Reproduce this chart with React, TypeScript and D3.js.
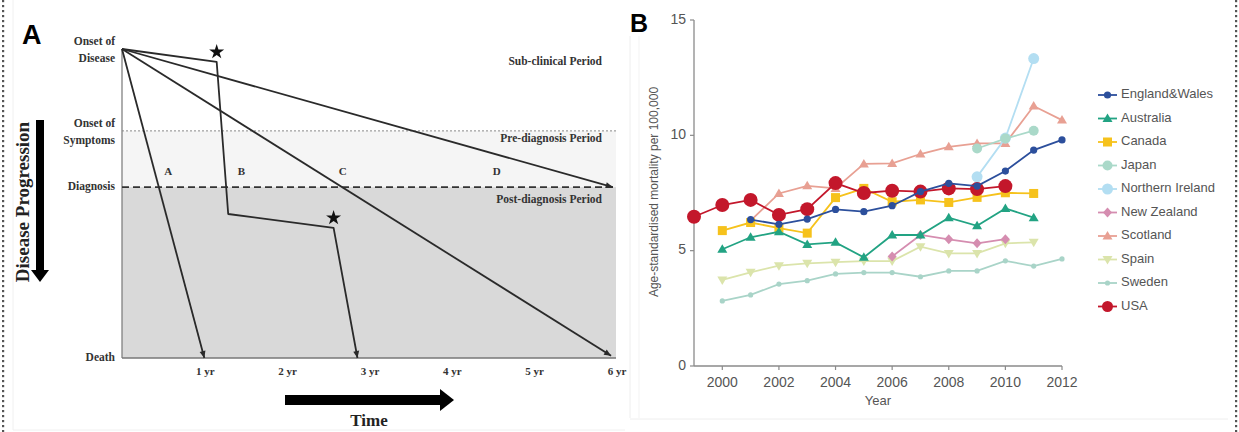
import React, { useEffect } from "react";
import * as d3 from "d3";

// ---------- Panel A data (time in years, progression 0 = onset, 1 = death) ----------
const yearTicks = [1, 2, 3, 4, 5, 6];
const stageLabels = ["Onset of|Disease", "Onset of|Symptoms", "Diagnosis", "Death"];
const stageLevels = [0, 0.265, 0.447, 1];
const periodLabels = ["Sub-clinical Period", "Pre-diagnosis Period", "Post-diagnosis Period"];
const periodLevels = [0.042, 0.294, 0.489];
const pathA: [number, number][] = [[0, 0], [1, 1]];
const pathB: [number, number][] = [[0, 0], [1.15, 0.042], [1.29, 0.534], [2.57, 0.579], [2.86, 1]];
const pathC: [number, number][] = [[0, 0], [5.94, 0.993]];
const pathD: [number, number][] = [[0, 0], [5.96, 0.447]];
const scenarioNames = ["A", "B", "C", "D"];
const scenarioLabelYears = [0.56, 1.45, 2.68, 4.55];
const starIdx = [1, 3]; // points of path B marked with a star

// ---------- Panel B data ----------
const years = d3.range(1999, 2013);
const countries = [
  "England&Wales", "Australia", "Canada", "Japan", "Northern Ireland",
  "New Zealand", "Scotland", "Spain", "Sweden", "USA",
];
const colors = [
  "#2c4f9c", "#22a383", "#f6c21c", "#aad9c9", "#b3def2",
  "#d58db0", "#e8a093", "#dbe4ab", "#a9d4c8", "#c3172b",
];
const shapes = ["dot", "tri", "sq", "circ", "bigcirc", "dia", "tri", "dtri", "small", "big"];
// null = no data that year (1999..2012)
const englandWales = [null, null, 6.35, 6.14, 6.37, 6.79, 6.69, 6.95, 7.56, 7.92, 7.8, 8.45, 9.36, 9.8];
const australia = [null, 5.06, 5.58, 5.82, 5.27, 5.36, 4.71, 5.68, 5.68, 6.43, 6.08, 6.83, 6.43, null];
const canada = [null, 5.87, 6.22, 5.98, 5.76, 7.3, 7.7, 7.12, 7.2, 7.09, 7.31, 7.51, 7.48, null];
const japan = [null, null, null, null, null, null, null, null, null, null, 9.43, 9.86, 10.2, null];
const northernIreland = [null, null, null, null, null, null, null, null, null, null, 8.2, 9.88, 13.33, null];
const newZealand = [null, null, null, null, null, null, null, 4.75, 5.68, 5.49, 5.32, 5.5, null, null];
const scotland = [null, null, 6.3, 7.48, 7.81, 7.7, 8.76, 8.78, 9.19, 9.5, 9.65, 9.65, 11.27, 10.66];
const spain = [null, 3.73, 4.06, 4.35, 4.45, 4.5, 4.55, 4.55, 5.17, 4.88, 4.88, 5.32, 5.36, null];
const sweden = [null, 2.82, 3.08, 3.55, 3.7, 3.99, 4.05, 4.05, 3.87, 4.12, 4.12, 4.56, 4.33, 4.64];
const usa = [6.47, 6.98, 7.2, 6.55, 6.8, 7.93, 7.5, 7.6, 7.56, 7.7, 7.67, 7.8, null, null];
const seriesValues = [englandWales, australia, canada, japan, northernIreland, newZealand, scotland, spain, sweden, usa];
const drawOrder = [8, 7, 6, 5, 4, 3, 2, 1, 9, 0];
const yTicks = [0, 5, 10, 15];
const xTicks = [2000, 2002, 2004, 2006, 2008, 2010, 2012];

const serif = "'Liberation Serif', 'DejaVu Serif', serif";
const sans = "'Liberation Sans', Arial, sans-serif";

function Marker({ shape, x, y, color }: { shape: string; x: number; y: number; color: string }) {
  switch (shape) {
    case "dot":
      return <circle cx={x} cy={y} r={3.6} fill={color} />;
    case "small":
      return <circle cx={x} cy={y} r={2.6} fill={color} />;
    case "circ":
      return <circle cx={x} cy={y} r={5} fill={color} />;
    case "bigcirc":
      return <circle cx={x} cy={y} r={5.5} fill={color} />;
    case "big":
      return <circle cx={x} cy={y} r={7} fill={color} />;
    case "sq":
      return <rect x={x - 4.5} y={y - 4.5} width={9} height={9} fill={color} />;
    case "tri":
      return <path d={`M${x},${y - 5}L${x + 5},${y + 3.5}L${x - 5},${y + 3.5}Z`} fill={color} />;
    case "dtri":
      return <path d={`M${x},${y + 5}L${x + 5},${y - 3.5}L${x - 5},${y - 3.5}Z`} fill={color} />;
    case "dia":
      return <path d={`M${x},${y - 5}L${x + 4.5},${y}L${x},${y + 5}L${x - 4.5},${y}Z`} fill={color} />;
    default:
      return null;
  }
}

function PanelA() {
  const x = d3.scaleLinear().domain([0, 6]).range([122, 616]);
  const y = d3.scaleLinear().domain([0, 1]).range([49, 358]);
  const line = d3.line<[number, number]>().x((d) => x(d[0])).y((d) => y(d[1]));
  const paths = [pathA, pathB, pathC, pathD];
  const star = d3.symbol().type(d3.symbolStar).size(70)();

  return (
    <g>
      <text x={22} y={44} fontFamily={sans} fontWeight="bold" fontSize={27} fill="#000">A</text>
      {/* bands */}
      <rect x={x(0)} y={y(stageLevels[1])} width={x(6) - x(0)} height={y(stageLevels[2]) - y(stageLevels[1])} fill="#f5f5f5" />
      <rect x={x(0)} y={y(stageLevels[2])} width={x(6) - x(0)} height={y(1) - y(stageLevels[2])} fill="#d9d9d9" />
      <line x1={x(0)} x2={x(0)} y1={y(0)} y2={y(1)} stroke="#777" strokeWidth={1.2} />
      <line x1={x(0)} x2={x(6)} y1={y(1)} y2={y(1)} stroke="#777" strokeWidth={1.5} />
      <line x1={x(0)} x2={x(6)} y1={y(stageLevels[1])} y2={y(stageLevels[1])} stroke="#888" strokeWidth={1} strokeDasharray="2,2" />
      <line x1={x(0)} x2={x(6)} y1={y(stageLevels[2])} y2={y(stageLevels[2])} stroke="#333" strokeWidth={1.6} strokeDasharray="7,4" />

      {/* stage labels */}
      {stageLabels.map((s, i) => {
        const parts = s.split("|");
        return parts.map((p, j) => (
          <text key={s + j} x={115} y={y(stageLevels[i]) + (parts.length === 2 ? (j === 0 ? -7 : 10) : 0)}
            textAnchor="end" dominantBaseline="middle" fontFamily={serif} fontWeight="bold" fontSize={11.5} fill="#333">
            {p}
          </text>
        ));
      })}
      {periodLabels.map((p, i) => (
        <text key={p} x={602} y={y(periodLevels[i])} textAnchor="end" dominantBaseline="middle"
          fontFamily={serif} fontWeight="bold" fontSize={11.5} fill="#333">{p}</text>
      ))}
      {scenarioNames.map((n, i) => (
        <text key={n} x={x(scenarioLabelYears[i])} y={172} textAnchor="middle" dominantBaseline="middle"
          fontFamily={serif} fontWeight="bold" fontSize={11} fill="#333">{n}</text>
      ))}

      {/* paths */}
      {paths.map((p, i) => {
        const last = p[p.length - 1];
        const prev = p[p.length - 2];
        const ang = Math.atan2(y(last[1]) - y(prev[1]), x(last[0]) - x(prev[0]));
        const tx = x(last[0]);
        const ty = y(last[1]);
        const L = 7, W = 3;
        const ax = tx - L * Math.cos(ang), ay = ty - L * Math.sin(ang);
        const head = `M${tx},${ty}L${ax - W * Math.sin(ang)},${ay + W * Math.cos(ang)}L${ax + W * Math.sin(ang)},${ay - W * Math.cos(ang)}Z`;
        return (
          <g key={i}>
            <path d={line(p) || ""} fill="none" stroke="#2a2a2a" strokeWidth={1.8} strokeLinejoin="round" />
            <path d={head} fill="#2a2a2a" />
          </g>
        );
      })}
      {starIdx.map((k) => (
        <path key={k} d={star || ""} transform={`translate(${x(pathB[k][0])},${y(pathB[k][1]) - 10})`} fill="#111" />
      ))}

      {/* year ticks */}
      {yearTicks.map((t) => (
        <text key={t} x={x(t) + 1} y={372} textAnchor="middle" dominantBaseline="middle"
          fontFamily={serif} fontWeight="bold" fontSize={11} fill="#333">{`${t} yr`}</text>
      ))}

      {/* Disease progression arrow */}
      <rect x={36} y={120} width={8} height={152} fill="#000" />
      <path d="M31,270L49,270L40,282Z" fill="#000" />
      <text transform="translate(25,202) rotate(-90)" textAnchor="middle" dominantBaseline="middle"
        fontFamily={serif} fontWeight="bold" fontSize={19} fill="#222">Disease Progression</text>

      {/* Time arrow */}
      <rect x={285} y={395} width={158} height={10} fill="#000" />
      <path d="M440,389L454,400L440,411Z" fill="#000" />
      <text x={369} y={422} textAnchor="middle" dominantBaseline="middle"
        fontFamily={serif} fontWeight="bold" fontSize={17} fill="#222">Time</text>
    </g>
  );
}

function PanelB() {
  const x = d3.scaleLinear().domain([1999, 2012]).range([694, 1062]);
  const y = d3.scaleLinear().domain([0, 15]).range([366, 20]);
  const line = d3
    .line<number | null>()
    .defined((d) => d !== null)
    .x((_, i) => x(years[i]))
    .y((d) => y(d as number));
  const axisColor = "#8a8a8a";

  return (
    <g>
      <text x={630} y={32} fontFamily={sans} fontWeight="bold" fontSize={25} fill="#000">B</text>
      {/* axes */}
      <line x1={x(1999)} x2={x(1999)} y1={y(15)} y2={y(0)} stroke={axisColor} strokeWidth={1.3} />
      <line x1={x(1999)} x2={x(2012)} y1={y(0)} y2={y(0)} stroke={axisColor} strokeWidth={1.3} />
      {yTicks.map((t) => (
        <g key={t}>
          <line x1={x(1999) - 4} x2={x(1999)} y1={y(t)} y2={y(t)} stroke={axisColor} strokeWidth={1.2} />
          <text x={686} y={y(t)} textAnchor="end" dominantBaseline="middle" fontFamily={sans} fontSize={14} fill="#555">{t}</text>
        </g>
      ))}
      {xTicks.map((t) => (
        <g key={t}>
          <line x1={x(t)} x2={x(t)} y1={y(0)} y2={y(0) + 4} stroke={axisColor} strokeWidth={1.2} />
          <text x={x(t)} y={383} textAnchor="middle" dominantBaseline="middle" fontFamily={sans} fontSize={14} fill="#555">{t}</text>
        </g>
      ))}
      <text x={878} y={402} textAnchor="middle" dominantBaseline="middle" fontFamily={sans} fontSize={13} fill="#555">Year</text>
      <text transform="translate(655,192) rotate(-90)" textAnchor="middle" dominantBaseline="middle"
        fontFamily={sans} fontSize={12} fill="#555">Age-standardised mortality per 100,000</text>

      {/* series */}
      {drawOrder.map((s) => (
        <g key={countries[s]}>
          <path d={line(seriesValues[s]) || ""} fill="none" stroke={colors[s]} strokeWidth={1.8} />
          {seriesValues[s].map((v, i) =>
            v === null ? null : <Marker key={i} shape={shapes[s]} x={x(years[i])} y={y(v)} color={colors[s]} />
          )}
        </g>
      ))}

      {/* legend */}
      {countries.map((c, i) => {
        const ly = 95 + i * 23.5;
        return (
          <g key={c}>
            <line x1={1098} x2={1117} y1={ly} y2={ly} stroke={colors[i]} strokeWidth={1.8} />
            <Marker shape={shapes[i] === "big" ? "bigcirc" : shapes[i]} x={1107.5} y={ly} color={colors[i]} />
            <text x={1121} y={ly} dominantBaseline="middle" fontFamily={sans} fontSize={13} fill="#555">{c}</text>
          </g>
        );
      })}
    </g>
  );
}

export default function App() {
  useEffect(() => {
    document.body.style.margin = "0";
  }, []);
  const dots = d3.range(0, 432, 5);
  return (
    <svg width={1239} height={432} style={{ display: "block", background: "#fff" }}>
      {/* faint panel frames */}
      <line x1={13} x2={13} y1={0} y2={430} stroke="#f0f0f0" />
      <line x1={13} x2={625} y1={430} y2={430} stroke="#f0f0f0" />
      <line x1={630} x2={630} y1={36} y2={418} stroke="#eeeeee" />
      <line x1={639} x2={639} y1={36} y2={418} stroke="#f3f3f3" />
      <line x1={630} x2={1228} y1={419} y2={419} stroke="#eeeeee" />
      {/* dotted page border */}
      {dots.map((d) => (
        <g key={d}>
          <rect x={2} y={d} width={2.2} height={2.2} fill="#555" />
          <rect x={1235} y={d} width={2.2} height={2.2} fill="#555" />
        </g>
      ))}
      <PanelA />
      <PanelB />
    </svg>
  );
}
